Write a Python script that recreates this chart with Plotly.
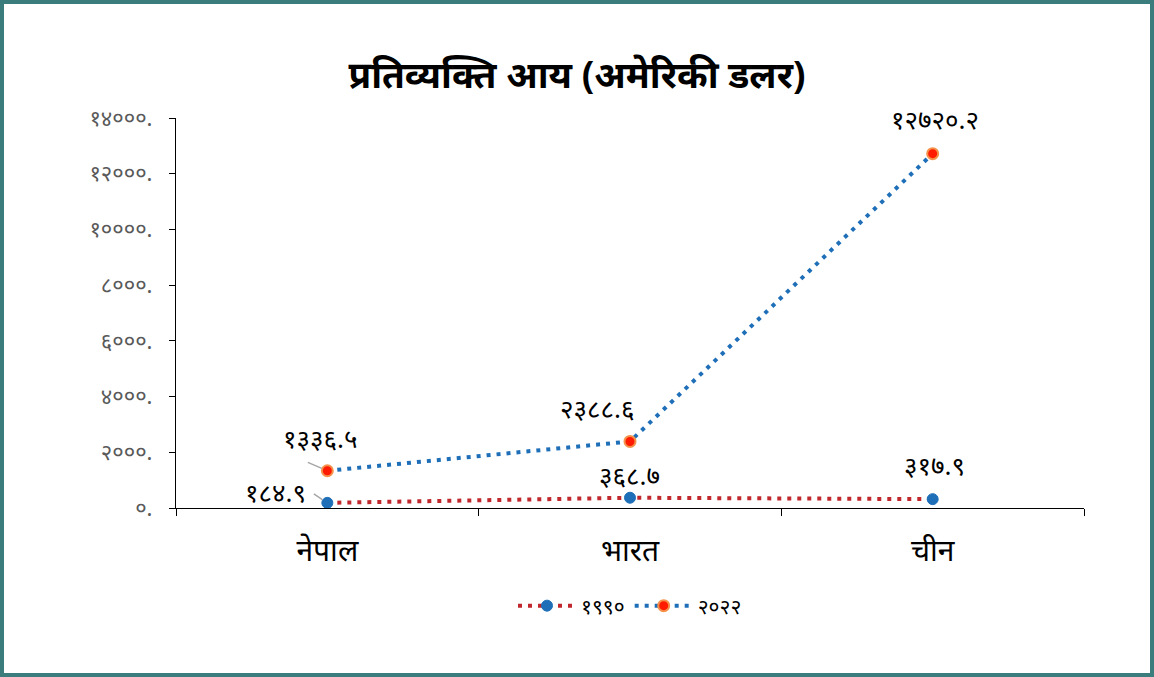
import plotly.graph_objects as go

categories = ["नेपाल", "भारत", "चीन"]
series_names = ["१९९०", "२०२२"]
values_1990 = [184.9, 368.7, 317.9]
values_2022 = [1336.5, 2388.6, 12720.2]
labels_1990 = ["१८४.९", "३६८.७", "३१७.९"]
labels_2022 = ["१३३६.५", "२३८८.६", "१२७२०.२"]
tick_vals = [0, 2000, 4000, 6000, 8000, 10000, 12000, 14000]
tick_text = ["०.", "२०००.", "४०००.", "६०००.", "८०००.", "१००००.", "१२०००.", "१४०००."]

FONT = "Noto Sans, DejaVu Sans, sans-serif"
RED = "#c0282d"
BLUE = "#1f6fb8"

fig = go.Figure()
fig.add_trace(go.Scatter(
    x=categories, y=values_1990, name=series_names[0], mode="lines+markers",
    line=dict(color=RED, width=4, dash="4px,6px"),
    marker=dict(color=BLUE, size=11, line=dict(color=BLUE, width=1)),
))
fig.add_trace(go.Scatter(
    x=categories, y=values_2022, name=series_names[1], mode="lines+markers",
    line=dict(color=BLUE, width=4, dash="4px,6px"),
    marker=dict(color="#ff1a00", size=11, line=dict(color="#f4914a", width=2)),
))

W, H = 1154, 677
L, R, T, B = 176, 70, 118, 169
pw, ph = W - L - R, H - T - B

lab_font = dict(family=FONT, size=26, color="#000000")
# label offsets in pixels relative to the point (dx, dy), leader tail (dx, dy) or None
offs_1990 = [(-52, -11, (-15, -10)), (-1, -23, None), (2, -34, None)]
offs_2022 = [(-7, -33, (-21, -9)), (-33, -33, None), (2, -35, None)]
for vals, labs, offs in [(values_1990, labels_1990, offs_1990), (values_2022, labels_2022, offs_2022)]:
    for c, v, t, (dx, dy, lead) in zip(categories, vals, labs, offs):
        fig.add_annotation(x=c, y=v, text=t, showarrow=False, xshift=dx, yshift=-dy,
                           font=lab_font)
        if lead is not None:
            fig.add_annotation(x=c, y=v, text="", showarrow=True, arrowhead=0,
                               arrowcolor="#a6a6a6", arrowwidth=1.5,
                               ax=lead[0], ay=lead[1], standoff=6)

fig.add_shape(type="rect", xref="paper", yref="paper",
              x0=-(L - 2) / pw, x1=(W - L - 2) / pw,
              y0=-(B - 2) / ph, y1=(ph + T - 2) / ph,
              line=dict(color="#3b7d7d", width=4), layer="below")

fig.update_layout(
    width=W, height=H,
    margin=dict(l=L, r=R, t=T, b=B),
    paper_bgcolor="white", plot_bgcolor="white",
    title=dict(text="<b>प्रतिव्यक्ति आय (अमेरिकी डलर)</b>", x=0.5, xanchor="center",
               y=1 - 75 / H, yanchor="middle",
               font=dict(family=FONT, size=37, color="#000000")),
    showlegend=True,
    legend=dict(orientation="h", x=0.5, xanchor="center", y=-(606 - 508) / ph, yanchor="middle",
                font=dict(family=FONT, size=21, color="#000000"), itemwidth=58),
    xaxis=dict(type="category", range=[-0.5, 2.5], showline=True, linecolor="#000000",
               linewidth=1.2, ticks="outside", tickson="boundaries", ticklen=7,
               tickcolor="#000000", showgrid=False, zeroline=False, ticklabelstandoff=16,
               tickfont=dict(family=FONT, size=30, color="#000000")),
    yaxis=dict(range=[0, 14000], tickvals=tick_vals, ticktext=tick_text,
               showline=True, linecolor="#000000", linewidth=1.2, ticks="outside",
               ticklen=6, tickcolor="#000000", showgrid=False, zeroline=False,
               ticklabelstandoff=12,
               tickfont=dict(family=FONT, size=22, color="#595959")),
)

fig.write_html("out.html", config={"displayModeBar": False},
               post_script="document.body.style.margin='0';document.body.style.overflow='hidden';")
